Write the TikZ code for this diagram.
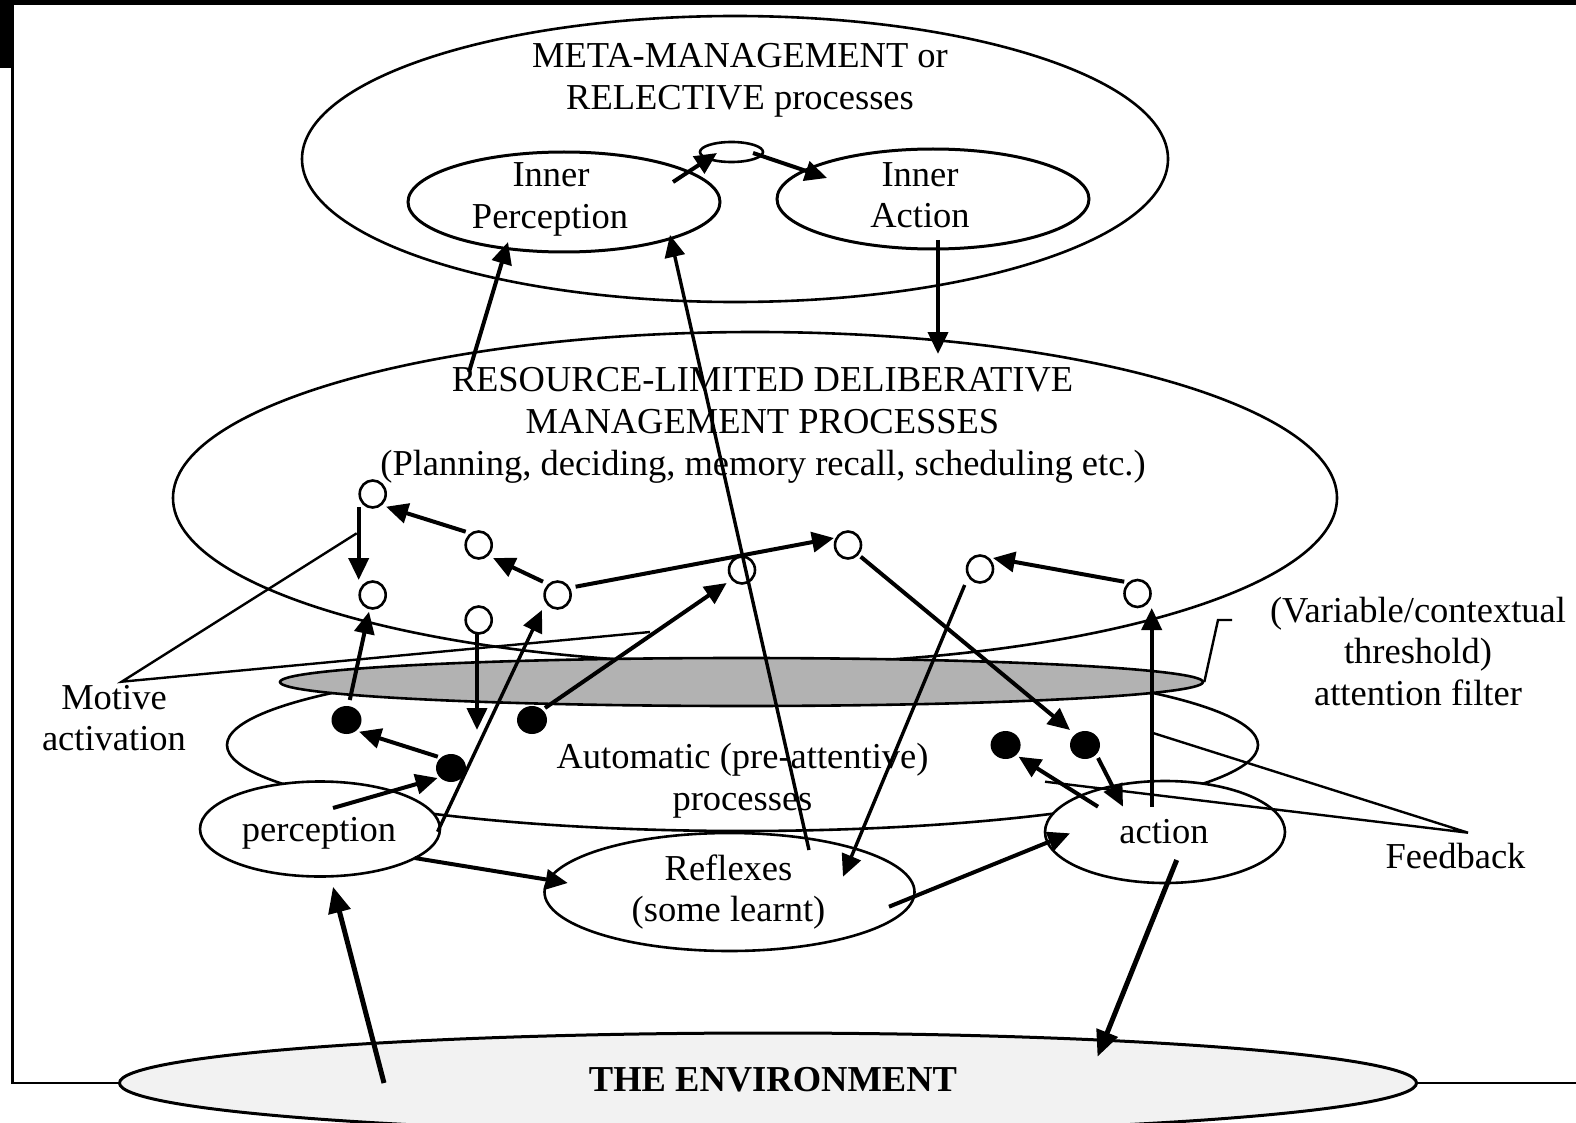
\documentclass[tikz,border=0pt]{standalone}
\usepackage{fontspec}
\setmainfont{Liberation Serif}
\usetikzlibrary{shapes.geometric,arrows.meta}
\begin{document}
\begin{tikzpicture}[x=1pt,y=-1pt,
  ell/.style={draw, ellipse, inner sep=0pt, line width=2.6pt},
  circ/.style={draw, ellipse, inner sep=0pt, line width=2.6pt, minimum width=26, minimum height=27, fill=white},
  dot/.style={ellipse, inner sep=0pt, fill=black, minimum width=30, minimum height=28},
  txt/.style={anchor=base, inner sep=0pt, font=\fontsize{36.5}{42}\selectfont},
  arr/.style={line width=4pt, -{Triangle[length=22pt,width=20pt]}},
  bigarr/.style={line width=5pt, -{Triangle[length=26pt,width=22pt]}},
  thinline/.style={line width=2.4pt},
]
\useasboundingbox (0,0) rectangle (1576,1123);
% frame
\fill[black] (0,0) rectangle (1576,5);
\fill[black] (0,0) rectangle (12,68);
\draw[line width=2.6pt] (12.5,5) -- (12.5,1083) -- (1576,1083);

% meta-management
\node[ell, minimum width=866, minimum height=286] (meta) at (735,159) {};
\node[ell, line width=3pt, minimum width=312, minimum height=100] (ip) at (564,202) {};
\node[ell, line width=3pt, minimum width=312, minimum height=100] (ia) at (933,199) {};
\node[ell, minimum width=63, minimum height=20] (sm) at (731.5,152) {};

% deliberative
\node[ell, minimum width=1164, minimum height=332] (delib) at (755,498) {};
% automatic
\node[ell, minimum width=1031, minimum height=172] (auto) at (742.5,745) {};
% attention filter
\node[ell, fill=gray!60, minimum width=923, minimum height=48] (filt) at (741.5,682) {};

% lower ellipses
\node[ell, fill=white, minimum width=240, minimum height=95] (perc) at (320,829) {};
\node[ell, fill=white, minimum width=370, minimum height=118] (refl) at (729.5,892) {};
\node[ell, fill=white, minimum width=240, minimum height=102] (act) at (1165,832) {};
\node[ell, line width=3pt, fill=black!5, minimum width=1297, minimum height=100] (env) at (768,1083) {};

% small circles
\node[circ] (c1) at (372.7,494) {};
\node[circ] (c2) at (478.7,545) {};
\node[circ] (c3) at (372.7,595) {};
\node[circ] (c4) at (478.7,620) {};
\node[circ] (c5) at (557.6,595) {};
\node[circ] (c6) at (742,570) {};
\node[circ] (c7) at (848,545) {};
\node[circ] (c8) at (980,569) {};
\node[circ] (c9) at (1137.5,593.5) {};
% dots
\node[dot] (d1) at (346.5,720) {};
\node[dot] (d2) at (532,720) {};
\node[dot] (d3) at (451,768) {};
\node[dot] (d4) at (1005.6,745) {};
\node[dot] (d5) at (1085,745) {};

% texts
\node[txt] (tm1) at (740,68) {META-MANAGEMENT or};
\node[txt] (tm2) at (740,110) {RELECTIVE processes};
\node[txt] (tip1) at (551,186.7) {Inner};
\node[txt] (tip2) at (550,228.3) {Perception};
\node[txt] (tia1) at (920,187) {Inner};
\node[txt] (tia2) at (920,228) {Action};
\node[txt] (td1) at (762.5,391.7) {RESOURCE-LIMITED DELIBERATIVE};
\node[txt] (td2) at (762.5,433.3) {MANAGEMENT PROCESSES};
\node[txt] (td3) at (763,475) {(Planning, deciding, memory recall, scheduling etc.)};
\node[txt] (ta1) at (742.5,768.3) {Automatic (pre-attentive)};
\node[txt] (ta2) at (742.5,810) {processes};
\node[txt] (tp) at (319,841.7) {perception};
\node[txt] (tr1) at (728.5,880) {Reflexes};
\node[txt] (tr2) at (728.5,921.7) {(some learnt)};
\node[txt] (tac) at (1164,843.3) {action};
\node[txt] (tfb) at (1455.5,868.3) {Feedback};
\node[txt] (tmo1) at (114,709.3) {Motive};
\node[txt] (tmo2) at (114,750) {activation};
\node[txt] (tv1) at (1418,622) {(Variable/contextual};
\node[txt] (tv2) at (1418,663.5) {threshold)};
\node[txt] (tv3) at (1418,705) {attention filter};
\node[txt, font=\fontsize{36.5}{42}\selectfont\bfseries] (tenv) at (773,1091.7) {THE ENVIRONMENT};

% label lines
\coordinate (mot) at (121.7,681.7);
\coordinate (mot1) at (356.7,533.3);
\coordinate (mot2) at (650,632);
\draw[thinline] (mot1) -- (mot) -- (mot2);
\coordinate (fb) at (1468,832.7);
\coordinate (fb1) at (1153,733);
\coordinate (fb2) at (1045,781.7);
\draw[thinline] (fb1) -- (fb) -- (fb2);
\coordinate (br1) at (1218,620);
\coordinate (br2) at (1232,620);
\draw[thinline] (filt.east) -- (br1) -- (br2);
\coordinate (m1) at (477,730);

% arrows
\draw[arr] ([shift={(109,-20)}]ip.center) -- ([shift={(-14.5,1)}]sm.center);
\draw[arr] ([shift={(21.5,1)}]sm.center) -- ([shift={(-106,-21)}]ia.center);
\draw[arr] ([shift={(-286,-126)}]delib.center) -- ([shift={(-56,40)}]ip.center);
\draw[arr, line width=3.4pt] ([shift={(79.5,-42)}]refl.center) -- ([shift={(106,33)}]ip.center);
\draw[arr] ([shift={(5,41)}]ia.center) -- ([shift={(183,-144)}]delib.center);
\draw[arr] ([shift={(-13,-13.3)}]c2.center) -- ([shift={(13.3,12.7)}]c1.center);
\draw[arr] ([shift={(-14,13)}]c1.center) -- ([shift={(-14,-15)}]c3.center);
\draw[arr] ([shift={(-14.6,-13.3)}]c5.center) -- ([shift={(14.3,13)}]c2.center);
\draw[arr] ([shift={(18,-8.3)}]c5.center) -- ([shift={(-14,-7)}]c7.center);
\draw[arr] ([shift={(3.3,-20)}]d1.center) -- ([shift={(-3.7,16.7)}]c3.center);
\draw[arr] ([shift={(-1.7,13)}]c4.center) -- (m1);
\draw[arr] ([shift={(-13.2,-11.3)}]d3.center) -- ([shift={(12.5,11.7)}]d1.center);
\draw[arr] ([shift={(13,-21)}]perc.center) -- ([shift={(-13.4,10)}]d3.center);
\draw[arr, line width=3.4pt] ([shift={(117.6,2.7)}]perc.center) -- ([shift={(-15.6,15)}]c5.center);
\draw[arr] ([shift={(13,-12)}]d2.center) -- ([shift={(-15.3,13)}]c6.center);
\draw[arr] ([shift={(12.7,11.7)}]c7.center) -- ([shift={(-15,-15)}]d5.center);
\draw[arr, line width=3.4pt] ([shift={(-15.3,16)}]c8.center) -- ([shift={(113.5,-15.3)}]refl.center);
\draw[arr] ([shift={(-13.3,-11.8)}]c9.center) -- ([shift={(12.9,-11)}]c8.center);
\draw[arr] ([shift={(-13.3,-25.3)}]act.center) -- ([shift={(14.2,14.5)}]c9.center);
\draw[arr] ([shift={(13,13)}]d5.center) -- ([shift={(-42,-25.3)}]act.center);
\draw[arr] ([shift={(-67,-25.3)}]act.center) -- ([shift={(13,11.7)}]d4.center);
\draw[arr] ([shift={(159.5,14.7)}]refl.center) -- ([shift={(-95,1.3)}]act.center);
\draw[arr] ([shift={(94.7,29)}]perc.center) -- ([shift={(-161.7,-9)}]refl.center);
\draw[bigarr] ([shift={(-384,0)}]env.center) -- ([shift={(13,57.7)}]perc.center);
\draw[bigarr] ([shift={(11.7,28)}]act.center) -- ([shift={(329.5,-26.3)}]env.center);
\end{tikzpicture}
\end{document}
